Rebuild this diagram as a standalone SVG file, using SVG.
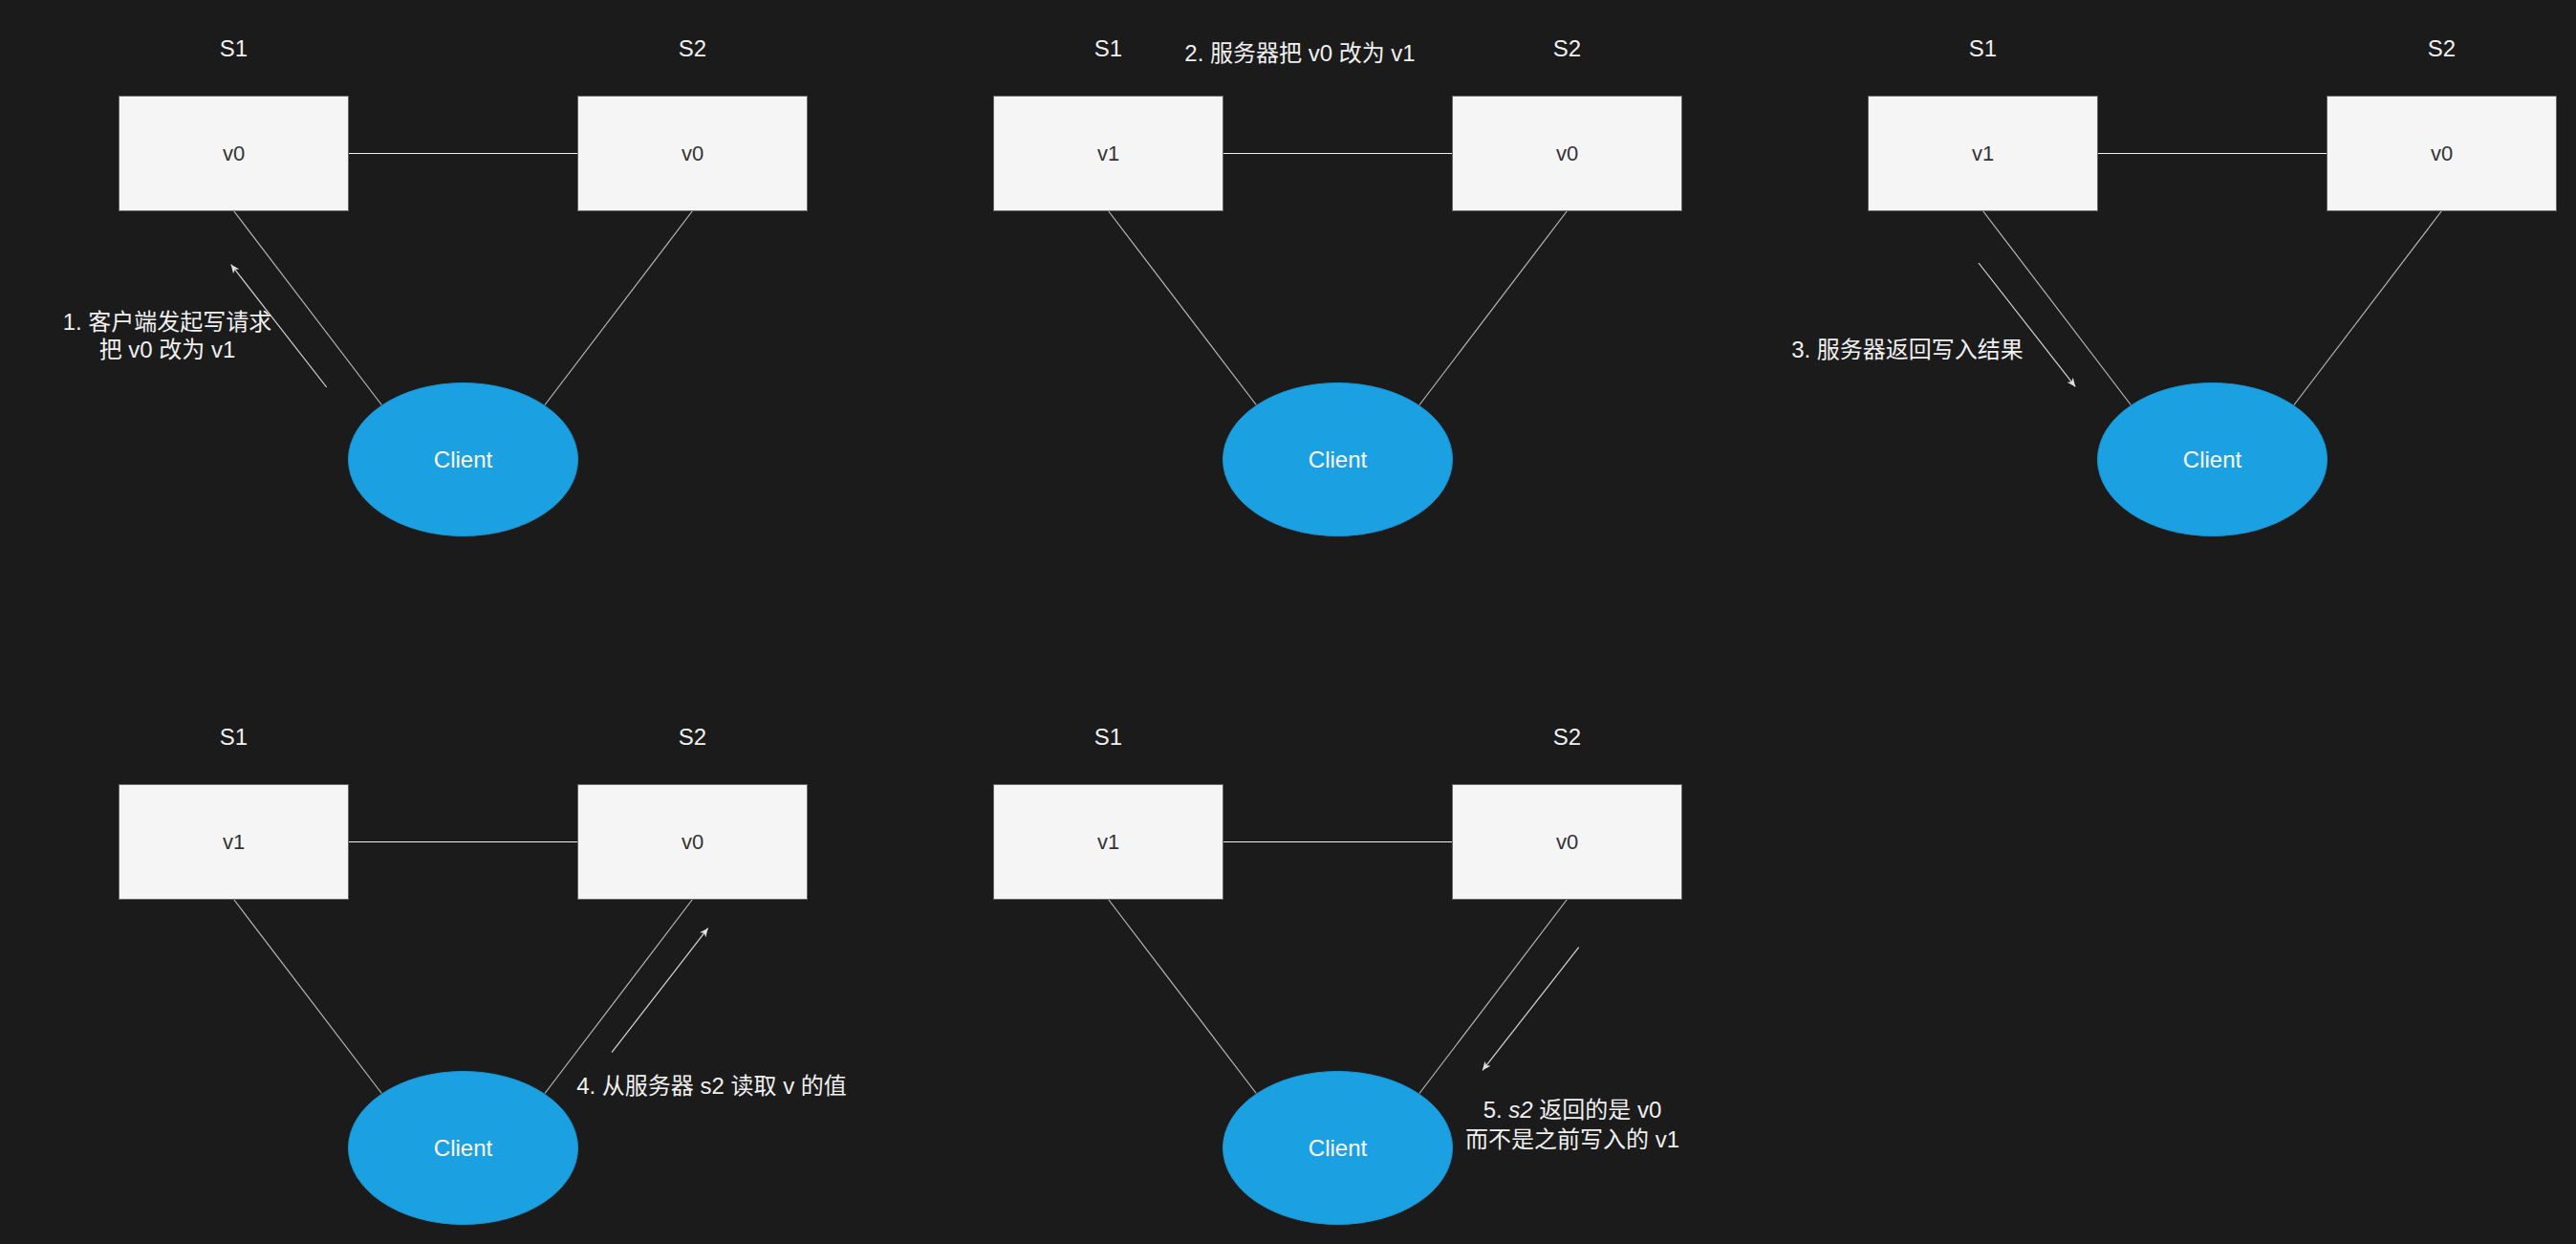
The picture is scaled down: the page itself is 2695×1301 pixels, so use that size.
<svg xmlns="http://www.w3.org/2000/svg" width="2695" height="1301" viewBox="0 0 2695 1301">
<defs>
<style>
.bg{fill:#1b1b1b}
.box{fill:#f5f5f5;stroke:#666666;stroke-width:1}
.cli{fill:#1ba1e2;stroke:#1896d4;stroke-width:1}
.lbl{font-family:"Liberation Sans","Noto Sans CJK SC",sans-serif;font-size:24px;fill:#f0f0f0;text-anchor:middle}
.val{font-family:"Liberation Sans","Noto Sans CJK SC",sans-serif;font-size:22px;fill:#333333;text-anchor:middle}
.ctx{font-family:"Liberation Sans","Noto Sans CJK SC",sans-serif;font-size:24px;fill:#ffffff;text-anchor:middle}
.note{font-family:"Liberation Sans","Noto Sans CJK SC",sans-serif;font-size:24px;fill:#f0f0f0;text-anchor:middle}
.h{stroke:#f0f0f0;stroke-width:1.2;fill:none}
.d{stroke:#b8b8b8;stroke-width:1.2;fill:none}
.arr{stroke:#d8d8d8;stroke-width:1.2;fill:none;marker-end:url(#ah)}
</style>
<marker id="ah" markerUnits="userSpaceOnUse" markerWidth="10" markerHeight="8" refX="9" refY="4" orient="auto">
<path d="M0,0 L9,4 L0,8 L2.5,4 z" fill="#e0e0e0"/>
</marker>
</defs>
<rect class="bg" x="0" y="0" width="2695" height="1301"/>

<g id="connectors">
<!-- panel 1 -->
<line class="h" x1="364.5" y1="160.5" x2="604.5" y2="160.5"/>
<line class="d" x1="244.5" y1="220.5" x2="399.3" y2="423.5"/>
<line class="d" x1="724.5" y1="220.5" x2="570" y2="423.5"/>
<line class="arr" x1="341.7" y1="405" x2="241.7" y2="276.7"/>
<!-- panel 2 -->
<line class="h" x1="1279.5" y1="160.5" x2="1519.5" y2="160.5"/>
<line class="d" x1="1159.5" y1="220.5" x2="1314.3" y2="423.5"/>
<line class="d" x1="1639.5" y1="220.5" x2="1485" y2="423.5"/>
<!-- panel 3 -->
<line class="h" x1="2194.5" y1="160.5" x2="2434.5" y2="160.5"/>
<line class="d" x1="2074.5" y1="220.5" x2="2229.3" y2="423.5"/>
<line class="d" x1="2554.5" y1="220.5" x2="2400" y2="423.5"/>
<line class="arr" x1="2070" y1="275" x2="2171.2" y2="404.4"/>
<!-- panel 4 -->
<line class="h" x1="364.5" y1="880.5" x2="604.5" y2="880.5"/>
<line class="d" x1="244.5" y1="940.5" x2="399.3" y2="1143.5"/>
<line class="d" x1="724.5" y1="940.5" x2="570" y2="1143.5"/>
<line class="arr" x1="640" y1="1100.7" x2="740.7" y2="970.7"/>
<!-- panel 5 -->
<line class="h" x1="1279.5" y1="880.5" x2="1519.5" y2="880.5"/>
<line class="d" x1="1159.5" y1="940.5" x2="1314.3" y2="1143.5"/>
<line class="d" x1="1639.5" y1="940.5" x2="1485" y2="1143.5"/>
<line class="arr" x1="1651.7" y1="990.7" x2="1551" y2="1119.3"/>
</g>

<!-- Panel 1 -->
<g id="p1-s1">
<text class="lbl" x="244.5" y="59">S1</text>
<rect class="box" x="124.5" y="100.5" width="240" height="120"/>
<text class="val" x="244.5" y="168">v0</text>
</g>
<g id="p1-s2">
<text class="lbl" x="724.5" y="59">S2</text>
<rect class="box" x="604.5" y="100.5" width="240" height="120"/>
<text class="val" x="724.5" y="168">v0</text>
</g>
<g id="p1-client">
<ellipse class="cli" cx="484.5" cy="480.5" rx="120" ry="80"/>
<text class="ctx" x="484.5" y="489">Client</text>
</g>
<g id="p1-note">
<text class="note" x="175" y="345">1. 客户端发起写请求</text>
<text class="note" x="175" y="374">把 v0 改为 v1</text>
</g>

<!-- Panel 2 -->
<g id="p2-s1">
<text class="lbl" x="1159.5" y="59">S1</text>
<rect class="box" x="1039.5" y="100.5" width="240" height="120"/>
<text class="val" x="1159.5" y="168">v1</text>
</g>
<g id="p2-s2">
<text class="lbl" x="1639.5" y="59">S2</text>
<rect class="box" x="1519.5" y="100.5" width="240" height="120"/>
<text class="val" x="1639.5" y="168">v0</text>
</g>
<g id="p2-client">
<ellipse class="cli" cx="1399.5" cy="480.5" rx="120" ry="80"/>
<text class="ctx" x="1399.5" y="489">Client</text>
</g>
<g id="p2-note">
<text class="note" x="1360" y="64">2. 服务器把 v0 改为 v1</text>
</g>

<!-- Panel 3 -->
<g id="p3-s1">
<text class="lbl" x="2074.5" y="59">S1</text>
<rect class="box" x="1954.5" y="100.5" width="240" height="120"/>
<text class="val" x="2074.5" y="168">v1</text>
</g>
<g id="p3-s2">
<text class="lbl" x="2554.5" y="59">S2</text>
<rect class="box" x="2434.5" y="100.5" width="240" height="120"/>
<text class="val" x="2554.5" y="168">v0</text>
</g>
<g id="p3-client">
<ellipse class="cli" cx="2314.5" cy="480.5" rx="120" ry="80"/>
<text class="ctx" x="2314.5" y="489">Client</text>
</g>
<g id="p3-note">
<text class="note" x="1995.5" y="374">3. 服务器返回写入结果</text>
</g>

<!-- Panel 4 -->
<g id="p4-s1">
<text class="lbl" x="244.5" y="779">S1</text>
<rect class="box" x="124.5" y="820.5" width="240" height="120"/>
<text class="val" x="244.5" y="888">v1</text>
</g>
<g id="p4-s2">
<text class="lbl" x="724.5" y="779">S2</text>
<rect class="box" x="604.5" y="820.5" width="240" height="120"/>
<text class="val" x="724.5" y="888">v0</text>
</g>
<g id="p4-client">
<ellipse class="cli" cx="484.5" cy="1200.5" rx="120" ry="80"/>
<text class="ctx" x="484.5" y="1209">Client</text>
</g>
<g id="p4-note">
<text class="note" x="744.5" y="1144">4. 从服务器 s2 读取 v 的值</text>
</g>

<!-- Panel 5 -->
<g id="p5-s1">
<text class="lbl" x="1159.5" y="779">S1</text>
<rect class="box" x="1039.5" y="820.5" width="240" height="120"/>
<text class="val" x="1159.5" y="888">v1</text>
</g>
<g id="p5-s2">
<text class="lbl" x="1639.5" y="779">S2</text>
<rect class="box" x="1519.5" y="820.5" width="240" height="120"/>
<text class="val" x="1639.5" y="888">v0</text>
</g>
<g id="p5-client">
<ellipse class="cli" cx="1399.5" cy="1200.5" rx="120" ry="80"/>
<text class="ctx" x="1399.5" y="1209">Client</text>
</g>
<g id="p5-note">
<text class="note" x="1645" y="1169">5. <tspan font-style="italic">s2</tspan> 返回的是 v0</text>
<text class="note" x="1645" y="1200">而不是之前写入的 v1</text>
</g>
</svg>
